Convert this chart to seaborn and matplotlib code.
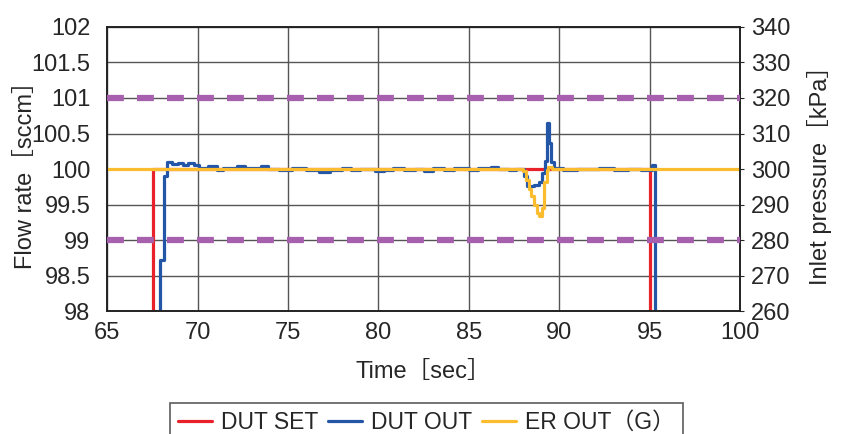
import matplotlib
matplotlib.use('Agg')
import matplotlib.pyplot as plt
import seaborn as sns
import numpy as np

# DUT SET (flow setpoint, sccm)
set_t = [65, 67.55, 95.0, 100]
set_v = [0, 100, 0, 0]

# DUT OUT (measured flow, sccm)
out_t = [65, 67.95, 68.15, 68.3, 68.6, 68.9, 69.2, 69.5, 69.8, 70.1, 70.6, 71.1, 71.4,
         72.2, 72.6, 73.5, 73.9, 74.5, 75.2, 76.0, 76.7, 77.3, 78.0, 78.5, 79.0, 79.8,
         80.3, 80.8, 81.4, 82.0, 82.5, 83.0, 83.6, 84.2, 85.0, 85.5, 86.2, 86.6, 87.2,
         87.6, 88.05, 88.2, 88.6, 88.9, 89.05, 89.2, 89.3, 89.45, 89.55, 89.7, 90.2,
         91.0, 92.2, 93.0, 93.8, 94.5, 95.1, 95.3, 100]
out_v = [0, 98.72, 99.9, 100.1, 100.07, 100.09, 100.06, 100.08, 100.05, 100.02, 100.04,
         99.98, 100.02, 100.04, 100.01, 100.04, 100.0, 99.98, 100.01, 99.98, 99.96, 99.99,
         100.02, 99.98, 100.0, 99.97, 99.99, 100.02, 99.98, 100.0, 99.97, 100.01, 99.98,
         100.02, 99.99, 100.02, 100.03, 100.0, 99.99, 100.0, 99.9, 99.76, 99.77, 99.82,
         99.95, 100.12, 100.65, 100.36, 100.1, 100.02, 99.98, 100.0, 100.02, 99.99, 100.0,
         99.98, 100.05, 0, 0]

# ER OUT(G)
er_t = [65, 88.0, 88.15, 88.3, 88.45, 88.6, 88.75, 88.9, 89.05, 89.15, 89.3, 89.4, 89.6, 100]
er_v = [100, 99.97, 99.85, 99.72, 99.62, 99.5, 99.38, 99.34, 99.45, 99.82, 99.98, 100.03, 100.0, 100]

# tolerance limits on inlet-pressure axis, kPa
limits_kpa = [320, 280]

sns.set_style('white')
plt.rcParams['font.family'] = ['Liberation Sans', 'Noto Sans CJK JP']

fig = plt.figure(figsize=(8.43, 4.34), dpi=100)
ax = fig.add_axes([0.127, 0.283, 0.751, 0.655])
ax2 = ax.twinx()

sns.lineplot(x=set_t, y=set_v, ax=ax, color='#e8212a', lw=2.3, drawstyle='steps-post',
             estimator=None, label='DUT SET', legend=False)
sns.lineplot(x=out_t, y=out_v, ax=ax, color='#2356a6', lw=2.3, drawstyle='steps-post',
             estimator=None, label='DUT OUT', legend=False)
sns.lineplot(x=er_t, y=er_v, ax=ax, color='#fbbc30', lw=2.3, drawstyle='steps-post',
             estimator=None, label='ER OUT（G）', legend=False)
for lim in limits_kpa:
    ax2.axhline(lim, color='#a660ad', lw=4.5, ls=(0, (2.7, 2.1)), zorder=3)

ax.set_xlim(65, 100)
ax.set_ylim(98, 102)
ax2.set_ylim(260, 340)
ax.set_xticks(np.arange(65, 101, 5))
ax.set_yticks(np.arange(98, 102.01, 0.5))
ax.set_yticklabels(['98', '98.5', '99', '99.5', '100', '100.5', '101', '101.5', '102'])
ax2.set_yticks(np.arange(260, 341, 10))
ax.grid(True, color='#555555', lw=1.0)
ax.tick_params(axis='y', labelsize=17, length=0, pad=12)
ax.tick_params(axis='x', labelsize=17, length=0, pad=8)
ax2.tick_params(labelsize=17, length=3, pad=5)
for a in (ax, ax2):
    for s in a.spines.values():
        s.set_color('#222222')
        s.set_linewidth(1.2)

ax.set_xlabel('Time［sec］', fontsize=17, labelpad=12)
ax.set_ylabel('Flow rate［sccm］', fontsize=17, labelpad=-4)
ax2.set_ylabel('Inlet pressure［kPa］', fontsize=17, labelpad=12)

h, l = ax.get_legend_handles_labels()
leg = fig.legend(h, l, loc='lower center', bbox_to_anchor=(0.506, -0.045), ncol=3,
                 fontsize=16.5, frameon=True, fancybox=False, edgecolor='#333333',
                 handlelength=1.5, handletextpad=0.4, columnspacing=0.4,
                 borderpad=0.35)
leg.get_frame().set_linewidth(1.2)

fig.savefig('out.png', dpi=100)
